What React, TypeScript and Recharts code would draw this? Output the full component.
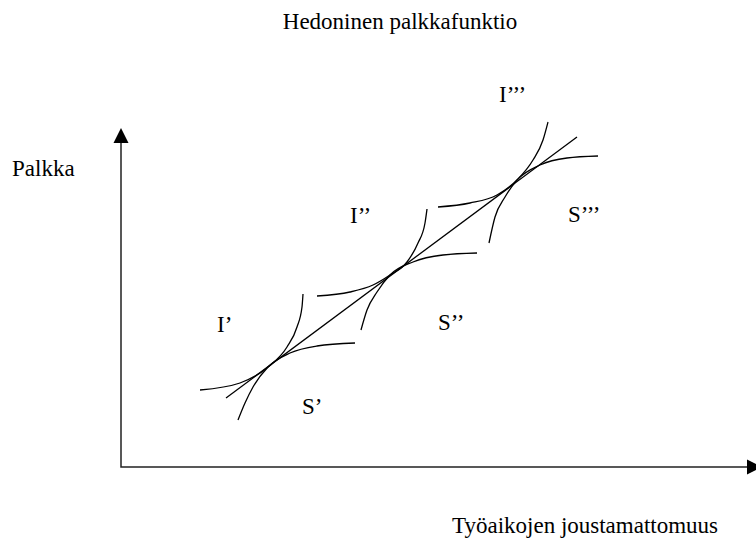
import React from 'react';
import { ComposedChart, Line, Scatter, XAxis, YAxis } from 'recharts';

type Pt = { x: number; y: number };

// x = työaikojen joustamattomuus, y = palkka (arbitrary units, origin at the axes corner)
const hedonicLine: Pt[] = [
    { x: 105, y: 69 },
    { x: 456, y: 330 },
];

// indifference curves (I) – convex, tangent to the wage function from above
const indiff1: Pt[] = [
    { x: 79, y: 77 }, { x: 119, y: 84 }, { x: 147, y: 100 }, { x: 166, y: 120 },
    { x: 176, y: 140 }, { x: 181, y: 160 }, { x: 182, y: 173 },
];
const indiff2: Pt[] = [
    { x: 196, y: 171 }, { x: 229, y: 175 }, { x: 252, y: 182 }, { x: 269, y: 192 },
    { x: 286, y: 205 }, { x: 297, y: 224 }, { x: 304, y: 244 }, { x: 306, y: 258 },
];
const indiff3: Pt[] = [
    { x: 317, y: 260 }, { x: 349, y: 264 }, { x: 376, y: 272 }, { x: 396, y: 287 },
    { x: 412, y: 307 }, { x: 422, y: 327 }, { x: 427, y: 345 },
];

// offer curves (S) – concave, tangent from below
const offer1: Pt[] = [
    { x: 117, y: 47 }, { x: 124, y: 64 }, { x: 132, y: 80 }, { x: 147, y: 100 },
    { x: 169, y: 114 }, { x: 196, y: 121 }, { x: 234, y: 124 },
];
const offer2: Pt[] = [
    { x: 240, y: 137 }, { x: 246, y: 157 }, { x: 256, y: 175 }, { x: 269, y: 192 },
    { x: 292, y: 205 }, { x: 322, y: 212 }, { x: 356, y: 214 },
];
const offer3: Pt[] = [
    { x: 368, y: 224 }, { x: 374, y: 250 }, { x: 384, y: 270 }, { x: 396, y: 287 },
    { x: 419, y: 302 }, { x: 446, y: 309 }, { x: 477, y: 311 },
];

const axisPath: Pt[] = [
    { x: 0, y: 324 },
    { x: 0, y: 0 },
    { x: 626, y: 0 },
];
const arrowHeads = [
    { x: 0, y: 324, dir: 'up' },
    { x: 626, y: 0, dir: 'right' },
];

const curveLabels = [
    { x: 96, y: 135, text: 'I’' },
    { x: 181, y: 53, text: 'S’' },
    { x: 229, y: 244, text: 'I’’' },
    { x: 317, y: 137, text: 'S’’' },
    { x: 378, y: 365, text: 'I’’’' },
    { x: 447, y: 245, text: 'S’’’' },
];

const curves = [indiff1, offer1, indiff2, offer2, indiff3, offer3];

const FONT = '"Liberation Serif", "Times New Roman", serif';
const W = 756;
const H = 541;

const ArrowHead = (props: any) => {
    const { cx, cy, payload } = props;
    const pts = payload.dir === 'up'
        ? `${cx - 7.5},${cy} ${cx + 7.5},${cy} ${cx},${cy - 15}`
        : `${cx},${cy - 7.5} ${cx},${cy + 7.5} ${cx + 15},${cy}`;
    return <polygon points={pts} fill="#000" />;
};

const CurveLabel = (props: any) => {
    const { cx, cy, payload } = props;
    return (
        <text x={cx} y={cy} fontFamily={FONT} fontSize={23} fill="#000">
            {payload.text}
        </text>
    );
};

export default function App() {
    return (
        <div style={{ position: 'absolute', left: 0, top: 0, width: W, height: H, background: '#fff' }}>
            <ComposedChart width={W} height={H} margin={{ top: 80, right: 0, bottom: 74, left: 121 }}>
                <XAxis type="number" dataKey="x" domain={[0, 635]} hide />
                <YAxis type="number" dataKey="y" domain={[0, 387]} hide />
                <Line
                    data={axisPath}
                    dataKey="y"
                    type="linear"
                    stroke="#222"
                    strokeWidth={1.5}
                    dot={false}
                    activeDot={false}
                    isAnimationActive={false}
                />
                <Line
                    data={hedonicLine}
                    dataKey="y"
                    type="linear"
                    stroke="#000"
                    strokeWidth={1.3}
                    dot={false}
                    activeDot={false}
                    isAnimationActive={false}
                />
                {curves.map((c, i) => (
                    <Line
                        key={i}
                        data={c}
                        dataKey="y"
                        type="monotone"
                        stroke="#000"
                        strokeWidth={1.3}
                        dot={false}
                        activeDot={false}
                        isAnimationActive={false}
                    />
                ))}
                <Scatter data={arrowHeads} shape={ArrowHead} isAnimationActive={false} />
                <Scatter data={curveLabels} shape={CurveLabel} isAnimationActive={false} />
            </ComposedChart>
            <svg width={W} height={H} style={{ position: 'absolute', left: 0, top: 0, pointerEvents: 'none' }}>
                <text x={400} y={29} textAnchor="middle" fontFamily={FONT} fontSize={23} fill="#000">
                    Hedoninen palkkafunktio
                </text>
                <text x={12} y={176} fontFamily={FONT} fontSize={23} fill="#000">
                    Palkka
                </text>
                <text x={452} y={533} fontFamily={FONT} fontSize={23} fill="#000">
                    Työaikojen joustamattomuus
                </text>
            </svg>
        </div>
    );
}
